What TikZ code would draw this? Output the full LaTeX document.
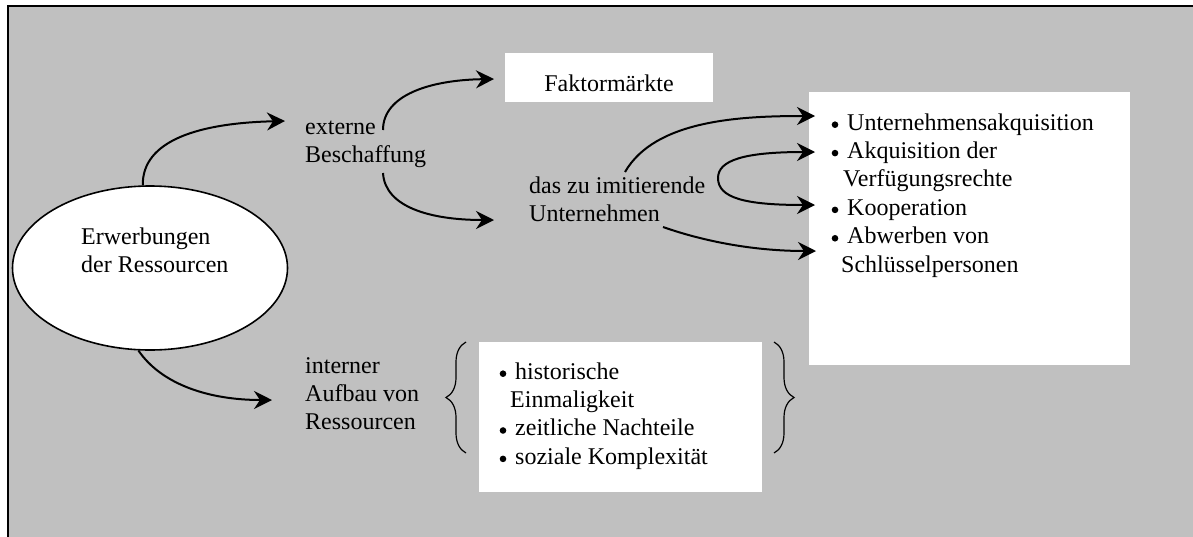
\documentclass[tikz,border=0pt]{standalone}
\usepackage{fontspec}
\setmainfont{Liberation Serif}
\usetikzlibrary{arrows.meta,shapes.geometric,decorations.pathreplacing}
\definecolor{panel}{RGB}{192,192,192}
% round bullet sitting just above the baseline, followed by the gap before the item text
\newcommand{\itembul}{\makebox[16pt][l]{\hspace{0.5pt}\tikz[baseline=-5.5pt]\fill[black] (0,0) circle[radius=3.3pt];}}

\begin{document}
\begin{tikzpicture}[x=1pt,y=-1pt,
  txt/.style={anchor=north west, inner sep=0pt, align=left, font=\fontsize{24}{28.4}\selectfont},
  whitebox/.style={fill=white, inner sep=0pt},
  conn/.style={line width=2pt, -{Stealth[length=18pt,width=18pt,inset=6pt]}},
  curly/.style={line width=1.2pt, decorate, decoration={brace, amplitude=20pt}}
]
\useasboundingbox (0,0) rectangle (1193,536);
\clip (0,0) rectangle (1193,536);
\fill[white] (0,0) rectangle (1193,536);
% grey panel, running past the right and bottom edges
\draw[line width=2pt, fill=panel] (8,6) rectangle (1210,550);

% central ellipse
\node[draw, ellipse, fill=white, line width=1.6pt, minimum width=275pt, minimum height=164pt, inner sep=0pt] (ell) at (150,268) {};
\node[txt] (ellText) at (81,224.1) {\strut Erwerbungen\\der Ressourcen};

% external acquisition branch
\node[txt] (ext) at (305,114.1) {\strut externe\\Beschaffung};
\node[whitebox, minimum width=208pt, minimum height=49pt, font=\fontsize{24}{28.4}\selectfont, text height=27pt, text depth=0pt] (fm) at (609,77.5) {Faktormärkte};
\node[txt] (firm) at (529,173.1) {\strut das zu imitierende\\Unternehmen};
\node[whitebox, minimum width=321pt, minimum height=273pt] (rbox) at (969.5,228.5) {};
\node[txt] (rlist) at (831,110.1) {\strut\itembul Unternehmensakquisition\\
  \itembul Akquisition der\\
  \hspace*{12pt}Verfügungsrechte\\
  \itembul Kooperation\\
  \itembul Abwerben von\\
  \hspace*{10pt}Schlüsselpersonen};

% internal build-up branch
\node[txt] (intern) at (305,353.1) {\strut interner\\Aufbau von\\Ressourcen};
\node[whitebox, minimum width=283pt, minimum height=150pt] (lbox) at (620.5,417) {};
\node[txt] (llist) at (499,359.1) {\strut\itembul historische\\
  \hspace*{11pt}Einmaligkeit\\
  \itembul zeitliche Nachteile\\
  \itembul soziale Komplexität};
\draw[curly] (466,453) -- (466,342);
\draw[curly] (774,342) -- (774,453);

% arrow end points next to the texts
\coordinate (extIn) at (285,121);
\coordinate (extUp) at (383,130);
\coordinate (extDown) at (383,173);
\coordinate (fmIn) at (494,79);
\coordinate (firmIn) at (494,220);
\coordinate (intIn) at (272,400);
\coordinate (firmUp) at (625,172);
\coordinate (firmMid) at (718,178);
\coordinate (firmLow) at (663,227);
\coordinate (itemA) at (815,116);
\coordinate (itemB) at (815,152);
\coordinate (itemC) at (815,205);
\coordinate (itemD) at (816,251);

\draw[conn] (ell.95) .. controls (142,140) and (200,123) .. (extIn);
\draw[conn] (extUp) .. controls (383,95) and (430,80) .. (fmIn);
\draw[conn] (extDown) .. controls (385,207) and (430,220) .. (firmIn);
\draw[conn] (ell.262) .. controls (162,385) and (210,400) .. (intIn);
\draw[conn] (firmUp) .. controls (655,120) and (740,116) .. (itemA);
\draw[conn] (firmMid) .. controls (718,160) and (745,152) .. (itemB);
\draw[conn] (firmMid) .. controls (718,198) and (745,205) .. (itemC);
\draw[conn] (firmLow) .. controls (700,240) and (750,251) .. (itemD);
\end{tikzpicture}
\end{document}
